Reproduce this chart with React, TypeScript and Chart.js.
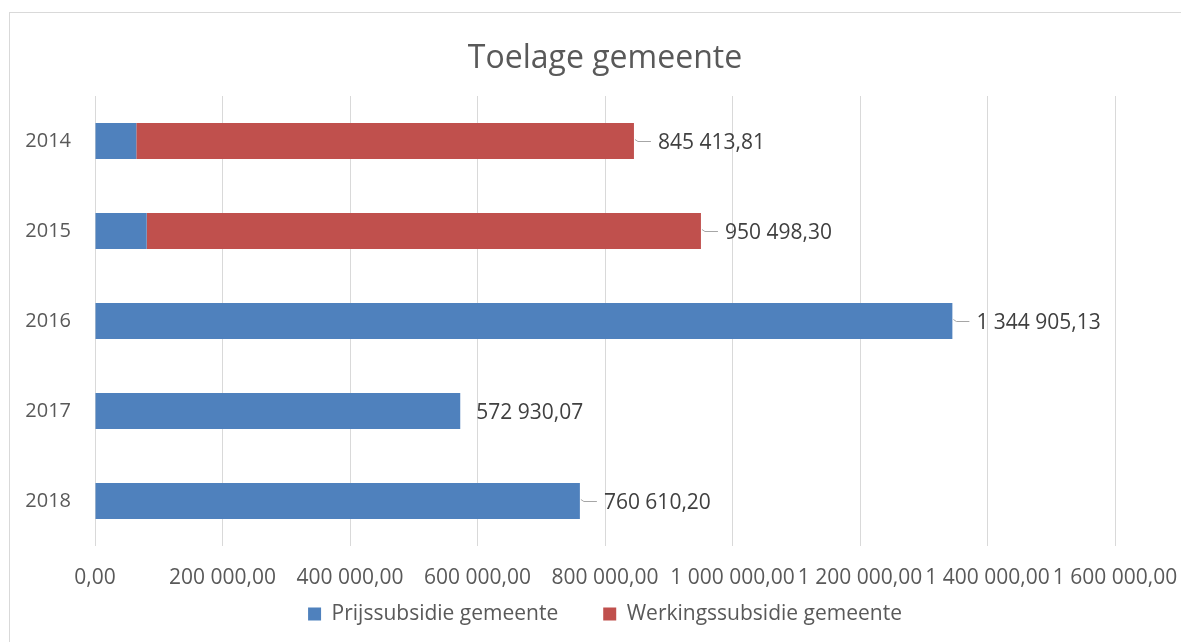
import React, { useEffect, useRef } from "react";
import { Chart, registerables } from "chart.js";

Chart.register(...registerables);

const years = ["2014", "2015", "2016", "2017", "2018"];
const prijssubsidie = [64800, 81100, 1344905.13, 572930.07, 760610.2];
const werkingssubsidie = [780613.81, 869398.3, null, null, null];
const seriesNames = ["Prijssubsidie gemeente", "Werkingssubsidie gemeente"];
const xTicks = [0, 200000, 400000, 600000, 800000, 1000000, 1200000, 1400000, 1600000];
const titleText = "Toelage gemeente";

const FONT = "'Open Sans', 'DejaVu Sans', sans-serif";
const BLUE = "#4f81bd";
const RED = "#c0504d";
const TEXT = "#595959";

function fmt(v: number): string {
  const s = Math.abs(v).toFixed(2);
  const [intPart, dec] = s.split(".");
  const withSpaces = intPart.replace(/\B(?=(\d{3})+(?!\d))/g, " ");
  return (v < 0 ? "-" : "") + withSpaces + "," + dec;
}

const frameAndLabels = {
  id: "frameAndLabels",
  beforeDraw(chart: any) {
    const ctx = chart.ctx;
    ctx.save();
    ctx.strokeStyle = "#d9d9d9";
    ctx.lineWidth = 1;
    ctx.strokeRect(9.5, 12.5, 3000, 3000);
    ctx.restore();
  },
  afterDatasetsDraw(chart: any) {
    const ctx = chart.ctx;
    const xScale = chart.scales.x;
    const yScale = chart.scales.y;
    ctx.save();
    ctx.font = `21px ${FONT}`;
    ctx.fillStyle = "#404040";
    ctx.textBaseline = "middle";
    ctx.textAlign = "left";
    years.forEach((_, i) => {
      const a = prijssubsidie[i] ?? 0;
      const b = werkingssubsidie[i] ?? 0;
      const total = a + b;
      const xEnd = xScale.getPixelForValue(total);
      const yc = yScale.getPixelForValue(i);
      const leader = i !== 3;
      if (leader) {
        ctx.strokeStyle = "#a6a6a6";
        ctx.lineWidth = 1;
        ctx.beginPath();
        ctx.moveTo(xEnd + 1, yc - 1.5);
        ctx.lineTo(xEnd + 4, yc + 0.5);
        ctx.lineTo(xEnd + 17, yc + 0.5);
        ctx.stroke();
        ctx.fillText(fmt(total), xEnd + 24, yc + 2);
      } else {
        ctx.fillText(fmt(total), xEnd + 16, yc + 2);
      }
    });
    ctx.restore();
  },
};

export default function App() {
  const ref = useRef<HTMLCanvasElement | null>(null);
  useEffect(() => {
    if (!ref.current) return;
    const chart = new Chart(ref.current, {
      type: "bar",
      data: {
        labels: years,
        datasets: [
          {
            label: seriesNames[0],
            data: prijssubsidie,
            backgroundColor: BLUE,
            borderWidth: 0,
            categoryPercentage: 0.8,
            barPercentage: 0.5,
          },
          {
            label: seriesNames[1],
            data: werkingssubsidie,
            backgroundColor: RED,
            borderWidth: 0,
            categoryPercentage: 0.8,
            barPercentage: 0.5,
          },
        ],
      },
      options: {
        indexAxis: "y",
        animation: false,
        responsive: false,
        events: [],
        layout: { padding: { left: 0, right: 0, top: 0, bottom: 7.5 } },
        scales: {
          x: {
            stacked: true,
            min: 0,
            max: 1600000,
            afterBuildTicks(scale: any) {
              scale.ticks = xTicks.map((v) => ({ value: v }));
            },
            afterFit(scale: any) {
              scale.height = 12.5;
              scale.paddingLeft = 0;
              scale.paddingRight = 66;
            },
            ticks: {
              autoSkip: false,
              maxRotation: 0,
              minRotation: 0,
              mirror: true,
              padding: -44.6,
              color: TEXT,
              font: { family: FONT, size: 21 },
              callback: (v: any) => fmt(Number(v)),
            },
            grid: {
              color: "#d9d9d9",
              lineWidth: 1,
              drawTicks: false,
            },
            border: { display: false },
          },
          y: {
            stacked: true,
            afterFit(scale: any) {
              scale.width = 95;
            },
            ticks: {
              padding: 24,
              color: TEXT,
              font: { family: FONT, size: 20 },
            },
            grid: { display: false, drawTicks: false },
            border: { display: false },
          },
        },
        plugins: {
          title: {
            display: true,
            fullSize: false,
            text: titleText,
            color: TEXT,
            font: { family: FONT, size: 32, weight: "normal" },
            padding: { top: 40, bottom: 17.6 },
          },
          legend: {
            display: true,
            fullSize: false,
            position: "bottom",
            labels: {
              boxWidth: 13,
              boxHeight: 13,
              padding: 45,
              color: TEXT,
              font: { family: FONT, size: 21 },
            },
          },
          tooltip: { enabled: false },
        },
      },
      plugins: [frameAndLabels],
    });
    return () => chart.destroy();
  }, []);
  return (
    <div style={{ position: "fixed", left: 0, top: 0, width: 1181, height: 642, background: "#fff" }}>
      <canvas ref={ref} width={1181} height={642} style={{ display: "block" }} />
    </div>
  );
}
